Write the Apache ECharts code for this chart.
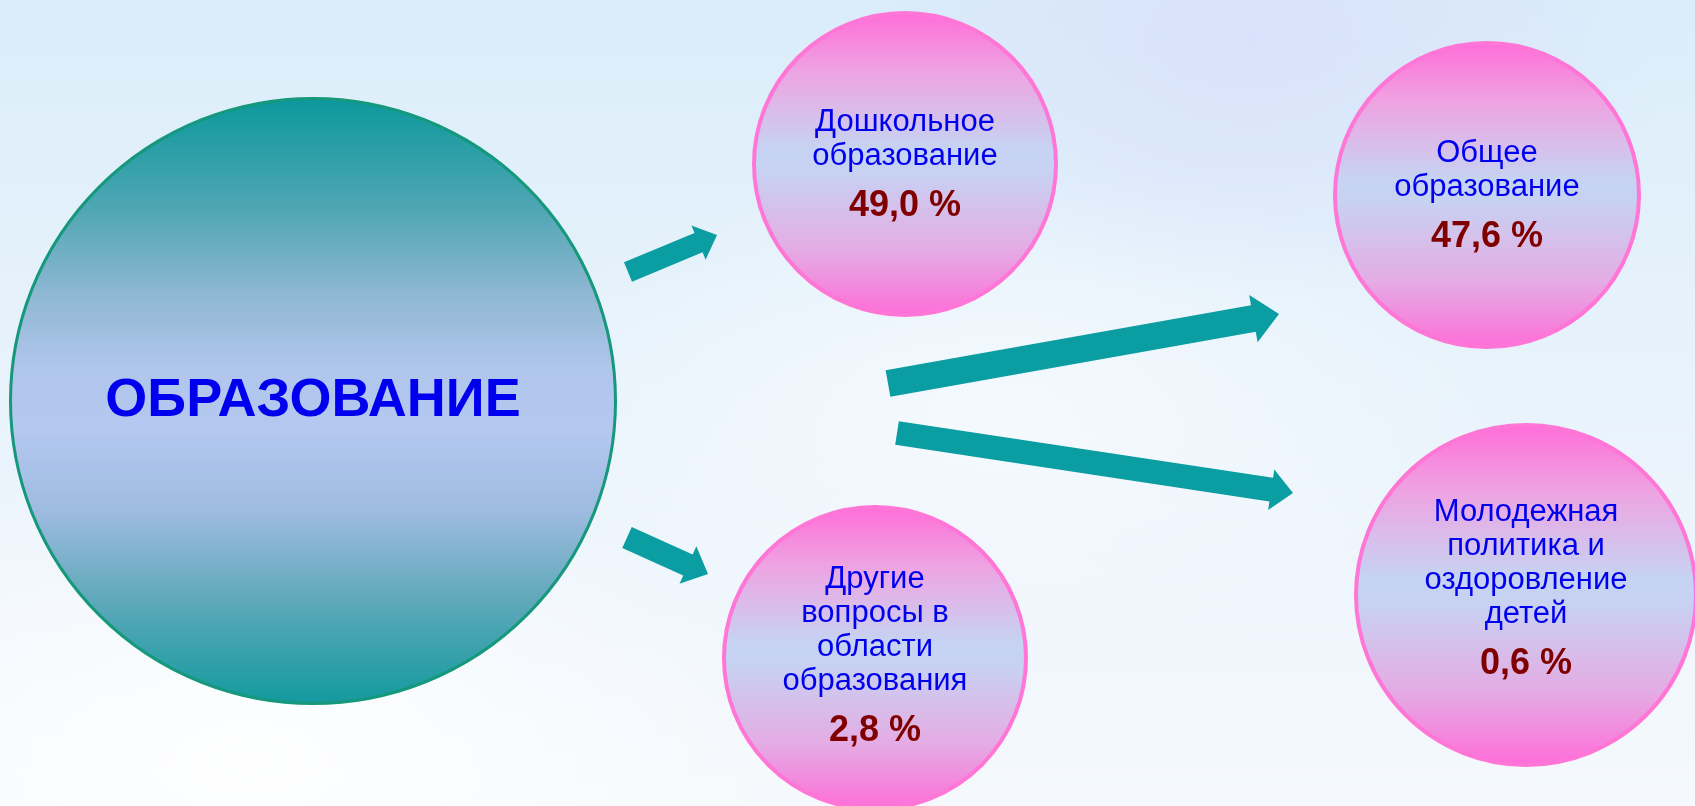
<!DOCTYPE html>
<html>
<head>
<meta charset="utf-8">
<script src="https://cdn.jsdelivr.net/npm/echarts@6/dist/echarts.min.js"></script>
<style>
html,body{margin:0;padding:0;width:1695px;height:806px;overflow:hidden;}
body{
  background:
    radial-gradient(ellipse 420px 260px at 1250px 40px, rgba(216,224,250,0.85), rgba(216,224,250,0) 100%),
    radial-gradient(ellipse 600px 300px at 250px 760px, rgba(255,255,255,0.9), rgba(255,255,255,0) 100%),
    radial-gradient(ellipse 500px 260px at 1000px 420px, rgba(246,250,254,0.9), rgba(246,250,254,0) 100%),
    linear-gradient(180deg, #dbedfa 0%, #e6f2fb 40%, #eef5fc 70%, #f5f9fd 100%);
}
#chart{width:1695px;height:806px;}
</style>
</head>
<body>
<div id="chart"></div>
<script>
// ---------- DATA ----------
const rootCategory = 'ОБРАЗОВАНИЕ';
const categories = [
  'Дошкольное образование',
  'Общее образование',
  'Молодежная политика и оздоровление детей',
  'Другие вопросы в области образования'
];
const categoryLines = [
  ['Дошкольное', 'образование'],
  ['Общее', 'образование'],
  ['Молодежная', 'политика и', 'оздоровление', 'детей'],
  ['Другие', 'вопросы в', 'области', 'образования']
];
const sharesPercent = [49.0, 47.6, 0.6, 2.8];

// ---------- LAYOUT (axis units == pixels of the 1695x806 canvas) ----------
const rootNode = {x: 313, y: 401, r: 304};
const childNodes = [
  {x: 905,  y: 164, r: 153, labelDy: 8},
  {x: 1487, y: 195, r: 154, labelDy: 8},
  {x: 1526, y: 595, r: 172, labelDy: 1},
  {x: 875,  y: 658, r: 153, labelDy: 5}
];
// arrows: tail point, tip point, shaft width, head width, head length
const arrowLayout = [
  {from: [628, 272],   to: [717, 235],  shaft: 21, head: 37, headLen: 20},
  {from: [888, 383.5], to: [1279, 314], shaft: 27, head: 48, headLen: 26},
  {from: [897, 433],   to: [1293, 493], shaft: 24, head: 41, headLen: 22},
  {from: [627, 537.5], to: [708, 574],  shaft: 23, head: 41, headLen: 22}
];

const FONT = '"Liberation Sans", Arial, sans-serif';
const fmt = v => v.toFixed(1).replace('.', ',') + ' %';

const chart = echarts.init(document.getElementById('chart'), null, {renderer: 'canvas'});

const rootGradient = new echarts.graphic.LinearGradient(0, 0, 0, 1, [
  {offset: 0, color: '#0b989c'},
  {offset: 0.18, color: '#4ea6b3'},
  {offset: 0.32, color: '#8db7d2'},
  {offset: 0.45, color: '#b1c6ec'},
  {offset: 0.55, color: '#b4c8f0'},
  {offset: 0.68, color: '#9ebbe0'},
  {offset: 0.82, color: '#62a9bb'},
  {offset: 1, color: '#119a9e'}
]);
const pinkGradient = () => new echarts.graphic.LinearGradient(0, 0, 0, 1, [
  {offset: 0, color: '#ff6cd8'},
  {offset: 0.2, color: '#eea4e2'},
  {offset: 0.45, color: '#c6d3f2'},
  {offset: 0.52, color: '#c7d2f2'},
  {offset: 0.78, color: '#e4ace4'},
  {offset: 1, color: '#ff6cd8'}
]);

const rootData = [{
  value: [rootNode.x, rootNode.y],
  symbolSize: rootNode.r * 2 - 3,
  name: rootCategory
}];

const childData = categories.map((c, i) => ({
  name: c,
  value: [childNodes[i].x, childNodes[i].y, sharesPercent[i]],
  symbolSize: childNodes[i].r * 2 - 4,
  itemStyle: {color: pinkGradient()},
  label: {offset: [0, childNodes[i].labelDy]}
}));

const arrowData = arrowLayout.map(a => [a.from[0], a.from[1], a.to[0], a.to[1], a.shaft, a.head, a.headLen]);

const option = {
  animation: false,
  grid: {left: 0, right: 0, top: 0, bottom: 0},
  xAxis: {type: 'value', min: 0, max: 1695, show: false},
  yAxis: {type: 'value', min: 0, max: 806, inverse: true, show: false},
  series: [
    {
      type: 'custom',
      name: 'arrows',
      coordinateSystem: 'cartesian2d',
      clip: false,
      z: 1,
      data: arrowData,
      renderItem: function (params, api) {
        const p1 = api.coord([api.value(0), api.value(1)]);
        const p2 = api.coord([api.value(2), api.value(3)]);
        const sw = api.value(4) / 2, hw = api.value(5) / 2, hl = api.value(6);
        const dx = p2[0] - p1[0], dy = p2[1] - p1[1];
        const len = Math.sqrt(dx * dx + dy * dy);
        const ux = dx / len, uy = dy / len;
        const nx = -uy, ny = ux;
        const bx = p2[0] - ux * hl, by = p2[1] - uy * hl;
        const pts = [
          [p1[0] + nx * sw, p1[1] + ny * sw],
          [bx + nx * sw, by + ny * sw],
          [bx + nx * hw, by + ny * hw],
          [p2[0], p2[1]],
          [bx - nx * hw, by - ny * hw],
          [bx - nx * sw, by - ny * sw],
          [p1[0] - nx * sw, p1[1] - ny * sw]
        ];
        return {type: 'polygon', shape: {points: pts}, style: {fill: '#0a9da1'}};
      }
    },
    {
      type: 'scatter',
      name: rootCategory,
      clip: false,
      z: 2,
      symbol: 'circle',
      data: rootData,
      itemStyle: {color: rootGradient, borderColor: '#15987c', borderWidth: 3, opacity: 1},
      label: {
        show: true,
        position: 'inside',
        formatter: p => p.name,
        fontFamily: FONT,
        fontSize: 54,
        fontWeight: 'bold',
        color: '#0000ee'
      },
      emphasis: {disabled: true}
    },
    {
      type: 'scatter',
      name: 'children',
      clip: false,
      z: 3,
      symbol: 'circle',
      data: childData,
      itemStyle: {borderColor: '#ff76d6', borderWidth: 4, opacity: 1},
      label: {
        show: true,
        position: 'inside',
        formatter: p => {
          const lines = categoryLines[p.dataIndex].map(l => '{n|' + l + '}');
          return lines.join('\n') + '\n{v|' + fmt(p.value[2]) + '}';
        },
        rich: {
          n: {fontFamily: FONT, fontSize: 31, lineHeight: 34, color: '#0000ee', align: 'center'},
          v: {fontFamily: FONT, fontSize: 36, fontWeight: 'bold', lineHeight: 66, color: '#800000', align: 'center'}
        }
      },
      emphasis: {disabled: true}
    }
  ]
};
chart.setOption(option);
</script>
</body>
</html>
